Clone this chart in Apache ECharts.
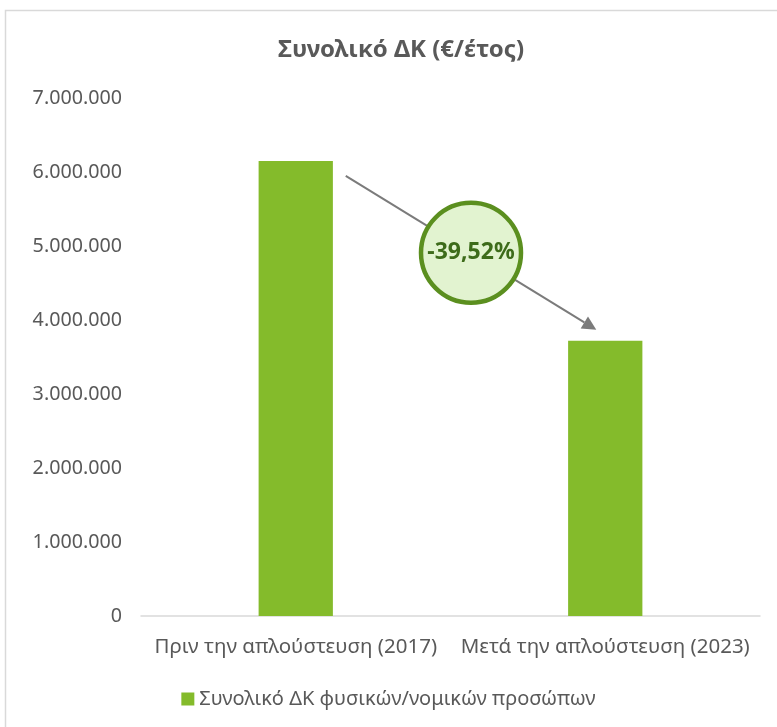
<!DOCTYPE html>
<html>
<head>
<meta charset="utf-8">
<script src="https://cdn.jsdelivr.net/npm/echarts@6/dist/echarts.min.js"></script>
<style>
html,body{margin:0;padding:0;background:#fff;}
#c{width:777px;height:727px;}
</style>
</head>
<body>
<div id="c"></div>
<script>
const titleText = 'Συνολικό ΔΚ (€/έτος)';
const categories = ['Πριν την απλούστευση (2017)', 'Μετά την απλούστευση (2023)'];
const seriesName = 'Συνολικό ΔΚ φυσικών/νομικών προσώπων';
const values = [6150000, 3719000];
const changeLabel = '-39,52%';
const yMin = 0, yMax = 7000000, yInterval = 1000000;

const FONT = '"Noto Sans", sans-serif';
const chart = echarts.init(document.getElementById('c'));

function fmt(v){ return String(v).replace(/\B(?=(\d{3})+(?!\d))/g, '.'); }

chart.setOption({
  animation: false,
  backgroundColor: '#ffffff',
  title: {
    text: titleText, left: 273, top: 33,
    textStyle: {fontFamily: FONT, fontSize: 24, fontWeight: 'bold', color: '#595959'}
  },
  legend: {
    data: [seriesName], bottom: 13, left: 'center',
    itemWidth: 13, itemHeight: 13, icon: 'rect', itemGap: 6,
    textStyle: {fontFamily: FONT, fontSize: 20, color: '#595959'}
  },
  grid: {left: 141, right: 17, top: 98, bottom: 111, containLabel: false},
  xAxis: {
    type: 'category', data: categories,
    axisLine: {show: true, lineStyle: {color: '#d9d9d9', width: 1.5}},
    axisTick: {show: false},
    axisLabel: {fontFamily: FONT, fontSize: 20.5, color: '#595959', margin: 21, interval: 0}
  },
  yAxis: {
    type: 'value', min: yMin, max: yMax, interval: yInterval,
    axisLine: {show: false}, axisTick: {show: false},
    splitLine: {show: false},
    axisLabel: {fontFamily: FONT, fontSize: 19.7, color: '#595959', margin: 19, formatter: fmt}
  },
  series: [{
    name: seriesName, type: 'bar', data: values, barWidth: '24%',
    itemStyle: {color: '#84bb2b'}
  }]
});

// annotation: arrow from bar 1 to bar 2 with circle label at the midpoint
const p0 = chart.convertToPixel({gridIndex: 0}, [0, values[0]]);
const p1 = chart.convertToPixel({gridIndex: 0}, [1, values[1]]);
const start = [p0[0] + 50, p0[1] + 15];
const end = [p1[0] - 9, p1[1] - 11];
const dx = end[0] - start[0], dy = end[1] - start[1];
const len = Math.sqrt(dx*dx + dy*dy);
const ux = dx/len, uy = dy/len;
const headL = 14, headW = 7;
const base = [end[0] - ux*headL, end[1] - uy*headL];
const mid = [(start[0] + end[0]) / 2, (start[1] + end[1]) / 2];

chart.setOption({
  graphic: [
    {type: 'rect', shape: {x: 5.5, y: 10.5, width: 800, height: 800},
     style: {fill: 'none', stroke: '#d9d9d9', lineWidth: 1.5}, silent: true},
    {type: 'line', shape: {x1: start[0], y1: start[1], x2: base[0], y2: base[1]},
     style: {stroke: '#7b7b7b', lineWidth: 2}},
    {type: 'polygon', shape: {points: [
      end,
      [base[0] - uy*headW, base[1] + ux*headW],
      [base[0] + uy*headW, base[1] - ux*headW]
    ]}, style: {fill: '#7b7b7b'}},
    {type: 'circle', shape: {cx: mid[0], cy: mid[1], r: 50},
     style: {fill: '#e2f3d0', stroke: '#5b8f1f', lineWidth: 4.5}},
    {type: 'text', x: mid[0], y: mid[1],
     style: {text: changeLabel, fontFamily: FONT, fontSize: 23, fontWeight: 'bold',
       fill: '#3d6b1a', align: 'center', verticalAlign: 'middle'}}
  ]
});
</script>
</body>
</html>
